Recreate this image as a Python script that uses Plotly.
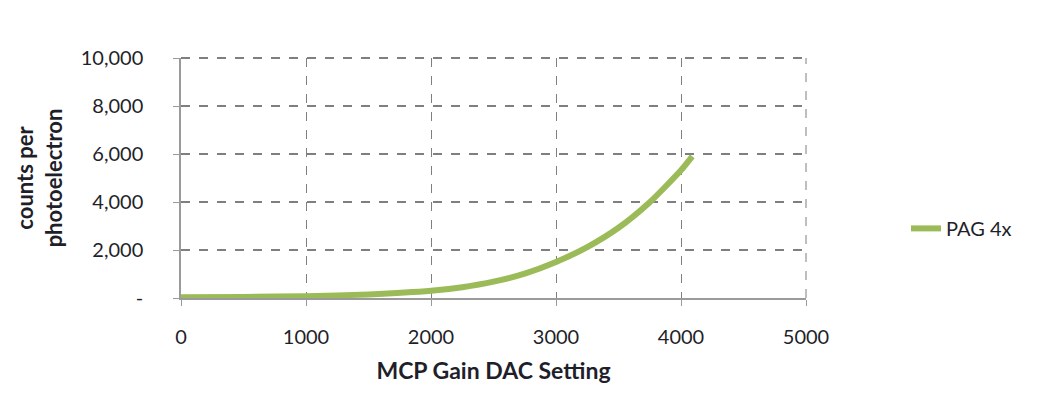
import plotly.graph_objects as go

# Data
dac_setting = [0, 500, 1000, 1500, 2000, 2250, 2500, 2750, 3000, 3250, 3500, 3750, 4000, 4090]
counts_per_pe = [30, 45, 75, 150, 300, 450, 680, 1015, 1500, 2120, 2925, 3990, 5320, 5900]
series_name = "PAG 4x"

y_tickvals = [0, 2000, 4000, 6000, 8000, 10000]
y_ticktext = ["-", "2,000", "4,000", "6,000", "8,000", "10,000"]
x_tickvals = [0, 1000, 2000, 3000, 4000, 5000]

FONT = "Lato, Open Sans, sans-serif"
TXT = "#1f1f2b"

fig = go.Figure()
fig.add_trace(go.Scatter(
    x=dac_setting, y=counts_per_pe, name=series_name, mode="lines",
    line=dict(color="#9BBB59", width=6, shape="spline", smoothing=0.6),
))

fig.update_layout(
    width=1049, height=402,
    margin=dict(l=173, r=251, t=50, b=112),
    paper_bgcolor="white", plot_bgcolor="white",
    font=dict(family=FONT, size=20, color=TXT),
    showlegend=True,
    legend=dict(x=1.16, y=0.29, xanchor="left", yanchor="middle",
                font=dict(size=20, color=TXT), bgcolor="rgba(0,0,0,0)"),
    xaxis=dict(
        range=[0, 5000], tickvals=x_tickvals,
        showgrid=True, gridcolor="#7f7f7f", griddash="dash", gridwidth=1,
        showline=True, linecolor="#9a9a9a", linewidth=1.5,
        ticks="outside", ticklen=6, tickcolor="#9a9a9a",
        ticklabelstandoff=14,
        zeroline=False,
        tickfont=dict(size=20, color=TXT),
        title=dict(text="<b>MCP Gain DAC Setting</b>", font=dict(size=23, color=TXT), standoff=16),
    ),
    yaxis=dict(
        range=[0, 10000], tickvals=y_tickvals, ticktext=y_ticktext,
        showgrid=True, gridcolor="#7f7f7f", griddash="dash", gridwidth=2,
        showline=True, linecolor="#9a9a9a", linewidth=1.5,
        ticks="outside", ticklen=6, tickcolor="#9a9a9a",
        ticklabelstandoff=26,
        zeroline=False,
        tickfont=dict(size=20, color=TXT),
        title=dict(text="<b>counts per<br>photoelectron</b>", font=dict(size=22, color=TXT), standoff=12),
    ),
)

fig.add_shape(type="line", xref="paper", yref="paper", x0=0, x1=1, y0=1, y1=1,
              line=dict(color="#7f7f7f", width=2, dash="dash"))
fig.add_shape(type="line", xref="paper", yref="paper", x0=1, x1=1, y0=0, y1=1,
              line=dict(color="#7f7f7f", width=1, dash="dash"))

fig.write_html("out.html")
